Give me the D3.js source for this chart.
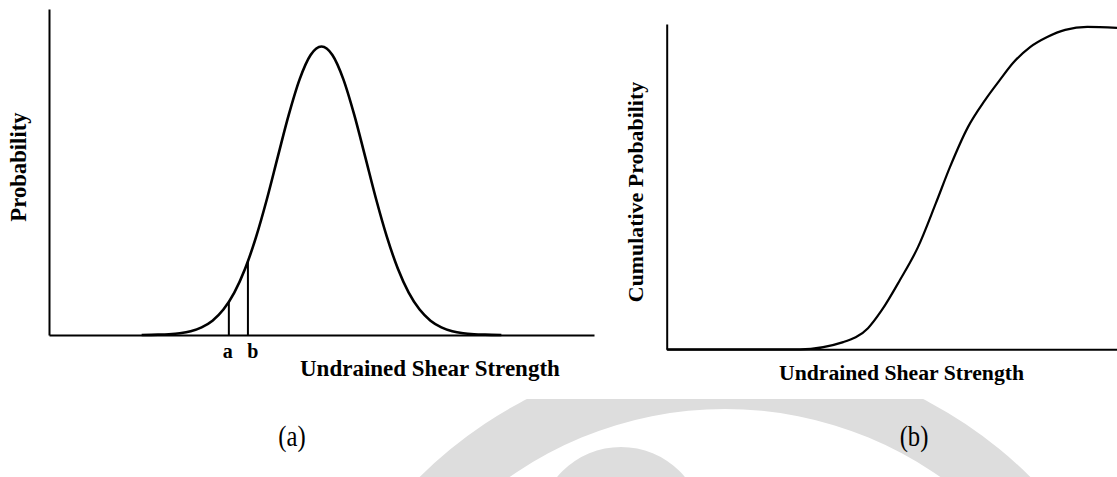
<!DOCTYPE html>
<html>
<head>
<meta charset="utf-8">
<script src="https://cdn.jsdelivr.net/npm/d3@7/dist/d3.min.js"></script>
<style>
  html, body { margin: 0; padding: 0; background: #ffffff; }
  svg { display: block; }
  .lbl { font-family: "Liberation Serif", "Times New Roman", serif; font-weight: bold; fill: #000; }
  .cap { font-family: "Liberation Serif", "Times New Roman", serif; fill: #000; }
</style>
</head>
<body>
<svg id="fig" width="1117" height="477"></svg>
<script>
// Panel (a): probability density of undrained shear strength (relative units)
const pdfStrength = [17, 20, 22, 24, 26, 28, 30, 32, 34, 36, 38, 40, 42, 44, 46, 48, 50,
                     52, 54, 56, 58, 60, 62, 64, 66, 68, 70, 72, 74, 76, 78, 80, 83];
const pdfValue    = [0, 0.001, 0.0025, 0.0056, 0.0118, 0.0236, 0.044, 0.078, 0.130, 0.204, 0.301, 0.418, 0.548, 0.676, 0.785, 0.859, 0.885,
                     0.859, 0.785, 0.676, 0.548, 0.418, 0.301, 0.204, 0.130, 0.078, 0.044, 0.0236, 0.0118, 0.0056, 0.0025, 0.001, 0];

// Interval bounds a and b marked under the density curve
const boundLabels = ["a", "b"];
const boundStrength = [33, 36.5];
const boundValue = [0.102, 0.226];

// Panel (b): cumulative probability of undrained shear strength
const cdfStrength = [0, 29.6, 39.2, 44.7, 47.8, 51.8, 55.8, 59.8, 62.9, 66.9, 70.7, 74.0, 76.9, 80.7, 84.5, 88.5, 93.4, 100];
const cdfValue    = [0, 0, 0.022, 0.065, 0.121, 0.213, 0.314, 0.450, 0.560, 0.683, 0.766, 0.828, 0.880, 0.929, 0.960, 0.982, 0.991, 0.988];

const xTitle = "Undrained Shear Strength";
const yTitleA = "Probability";
const yTitleB = "Cumulative Probability";
const captions = ["(a)", "(b)"];

const svg = d3.select("#fig");

// faint circular seal in the page background below the figure
svg.append("clipPath").attr("id", "below").append("rect")
  .attr("x", 0).attr("y", 399).attr("width", 1117).attr("height", 78);
const seal = svg.append("g").attr("fill", "#dddddd").attr("clip-path", "url(#below)");
seal.append("path")
  .attr("transform", "translate(725,784)")
  .attr("d", d3.arc()({innerRadius: 375, outerRadius: 433, startAngle: 0, endAngle: 2 * Math.PI}));
seal.append("path")
  .attr("transform", "translate(621,530)")
  .attr("d", d3.arc()({innerRadius: 0, outerRadius: 83, startAngle: 0, endAngle: 2 * Math.PI}));

// ---------- panel (a) ----------
const xA = d3.scaleLinear().domain([0, 100]).range([49, 594]);
const yA = d3.scaleLinear().domain([0, 1]).range([335, 9]);
const gA = svg.append("g");

gA.append("g").attr("transform", `translate(0,${yA(0)})`)
  .call(d3.axisBottom(xA).tickValues([]).tickSizeOuter(0))
  .call(g => g.select(".domain").attr("stroke", "#000").attr("stroke-width", 2));
gA.append("g").attr("transform", `translate(${xA(0)},0)`)
  .call(d3.axisLeft(yA).tickValues([]).tickSizeOuter(0))
  .call(g => g.select(".domain").attr("stroke", "#000").attr("stroke-width", 2));

gA.append("path")
  .datum(pdfStrength.map((s, i) => [s, pdfValue[i]]))
  .attr("fill", "none").attr("stroke", "#000").attr("stroke-width", 2.6)
  .attr("d", d3.line().x(d => xA(d[0])).y(d => yA(d[1])).curve(d3.curveMonotoneX));

gA.selectAll("line.bound").data(boundStrength).join("line")
  .attr("class", "bound")
  .attr("x1", d => xA(d)).attr("x2", d => xA(d))
  .attr("y1", yA(0)).attr("y2", (d, i) => yA(boundValue[i]))
  .attr("stroke", "#000").attr("stroke-width", 2);

gA.selectAll("text.bl").data(boundLabels).join("text")
  .attr("class", "lbl bl")
  .attr("x", (d, i) => xA(boundStrength[i]) + (i === 1 ? 5 : -1))
  .attr("y", 358)
  .attr("text-anchor", "middle")
  .style("font-size", "20px")
  .text(d => d);

gA.append("text").attr("class", "lbl")
  .attr("x", 300).attr("y", 376)
  .style("font-size", "23px")
  .text(xTitle);

gA.append("text").attr("class", "lbl")
  .attr("transform", "translate(26,167) rotate(-90)")
  .attr("text-anchor", "middle")
  .style("font-size", "22.7px")
  .text(yTitleA);

// ---------- panel (b) ----------
const xB = d3.scaleLinear().domain([0, 100]).range([666.7, 1117]);
const yB = d3.scaleLinear().domain([0, 1]).range([349.3, 24]);
const gB = svg.append("g");

gB.append("g").attr("transform", `translate(0,${yB(0)})`)
  .call(d3.axisBottom(xB).tickValues([]).tickSizeOuter(0))
  .call(g => g.select(".domain").attr("stroke", "#000").attr("stroke-width", 2));
gB.append("g").attr("transform", `translate(${xB(0)},0)`)
  .call(d3.axisLeft(yB).tickValues([]).tickSizeOuter(0))
  .call(g => g.select(".domain").attr("stroke", "#000").attr("stroke-width", 2));

gB.append("path")
  .datum(cdfStrength.map((s, i) => [s, cdfValue[i]]))
  .attr("fill", "none").attr("stroke", "#000").attr("stroke-width", 2.2)
  .attr("d", d3.line().x(d => xB(d[0])).y(d => yB(d[1])).curve(d3.curveMonotoneX));

gB.append("text").attr("class", "lbl")
  .attr("x", 779).attr("y", 380)
  .style("font-size", "21.7px")
  .text(xTitle);

gB.append("text").attr("class", "lbl")
  .attr("transform", "translate(643,192) rotate(-90)")
  .attr("text-anchor", "middle")
  .style("font-size", "21.9px")
  .text(yTitleB);

// ---------- captions ----------
svg.selectAll("text.cap").data(captions).join("text")
  .attr("class", "cap")
  .attr("text-anchor", "middle")
  .attr("transform", (d, i) => `translate(${i === 0 ? 292 : 914},446) scale(0.85,1)`)
  .style("font-size", "29px")
  .text(d => d);
</script>
</body>
</html>
